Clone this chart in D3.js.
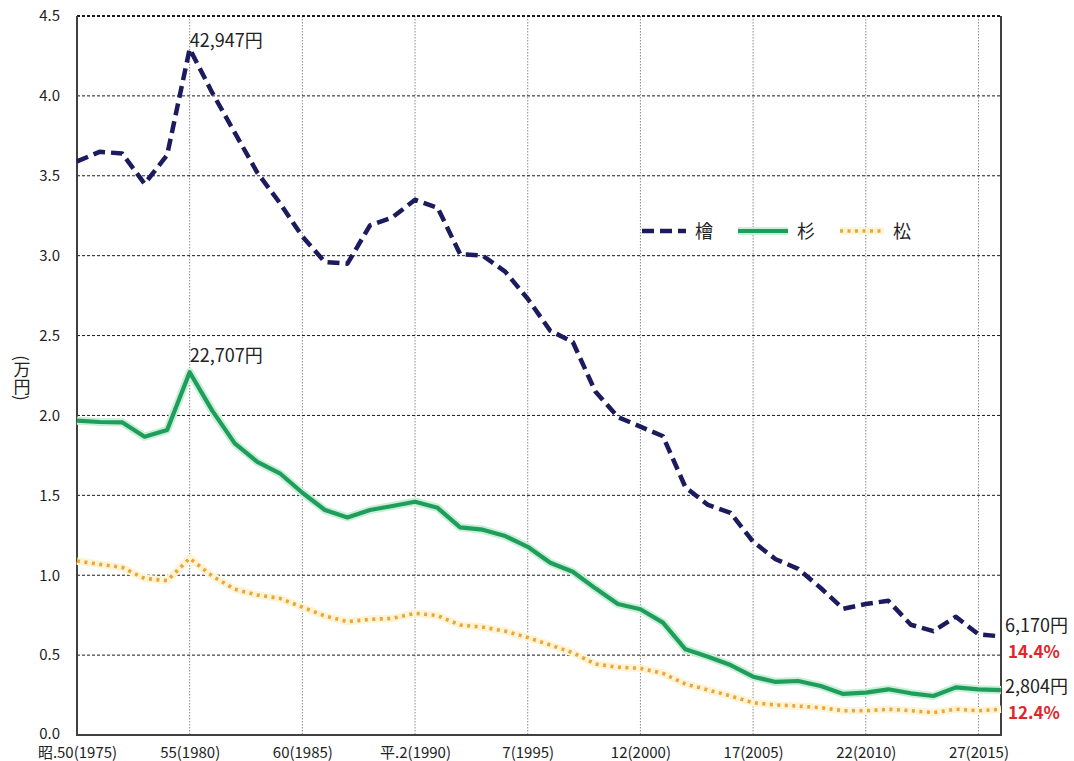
<!DOCTYPE html>
<html>
<head>
<meta charset="utf-8">
<script src="https://cdn.jsdelivr.net/npm/d3@7/dist/d3.min.js"></script>
<style>
  body { margin: 0; background: #fff; }
  text { font-family: "Noto Sans CJK JP", "Noto Sans", sans-serif; }
</style>
</head>
<body>
<svg id="chart" width="1074" height="761"></svg>
<script>
// Years on the category axis
const years = [1975, 1976, 1977, 1978, 1979, 1980, 1981, 1982, 1983, 1984,
               1985, 1986, 1987, 1988, 1989, 1990, 1991, 1992, 1993, 1994,
               1995, 1996, 1997, 1998, 1999, 2000, 2001, 2002, 2003, 2004,
               2005, 2006, 2007, 2008, 2009, 2010, 2011, 2012, 2013, 2014,
               2015, 2016];

// Standing timber price per m³ (yen)
const hinoki = [35900, 36500, 36400, 34500, 36300, 42947, 40200, 37700, 35200, 33300,
                31200, 29600, 29500, 31900, 32400, 33500, 33000, 30100, 30000, 29000,
                27300, 25300, 24600, 21500, 19900, 19300, 18700, 15500, 14400, 13900,
                12100, 11000, 10400, 9200, 7900, 8200, 8400, 6900, 6500, 7400,
                6300, 6170];
const sugi = [19670, 19590, 19570, 18670, 19090, 22707, 20300, 18250, 17100, 16380,
              15160, 14080, 13620, 14080, 14330, 14600, 14220, 13000, 12850, 12450,
              11780, 10780, 10220, 9180, 8200, 7870, 7030, 5360, 4900, 4380,
              3650, 3320, 3380, 3070, 2570, 2650, 2860, 2610, 2440, 2980,
              2860, 2804];
const matsu = [10890, 10680, 10490, 9800, 9660, 11060, 9950, 9120, 8760, 8550,
               8000, 7450, 7090, 7240, 7300, 7620, 7470, 6880, 6750, 6500,
               6100, 5630, 5150, 4440, 4240, 4170, 3860, 3190, 2820, 2440,
               2020, 1880, 1810, 1710, 1520, 1520, 1610, 1520, 1400, 1610,
               1520, 1610];

// Latest price as a share of the 1980 peak (檜, 杉)
const shareOfPeak = ["14.4%", "12.4%"];

// Axis ticks
const xTickYears = [1975, 1980, 1985, 1990, 1995, 2000, 2005, 2010, 2015];
const xTickLabels = ["昭.50(1975)", "55(1980)", "60(1985)", "平.2(1990)", "7(1995)",
                     "12(2000)", "17(2005)", "22(2010)", "27(2015)"];
const yTicks = [0, 5000, 10000, 15000, 20000, 25000, 30000, 35000, 40000, 45000];

const seriesNames = ["檜", "杉", "松"];

const svg = d3.select("#chart");
const plotL = 77, plotR = 1001, plotT = 16, plotB = 735;

const x = d3.scaleLinear().domain([years[0], years[years.length - 1]]).range([plotL, plotR]);
const y = d3.scaleLinear().domain([0, 45000]).range([plotB, plotT]);

svg.append("rect").attr("width", 1074).attr("height", 761).attr("fill", "#fff");

// Vertical dotted gridlines every five years
svg.append("g").selectAll("line")
  .data(xTickYears.slice(1))
  .join("line")
  .attr("x1", d => x(d)).attr("x2", d => x(d))
  .attr("y1", plotT).attr("y2", plotB)
  .attr("stroke", "#8a8a8a").attr("stroke-width", 1)
  .attr("stroke-dasharray", "1.5 1.5");

// Horizontal dashed gridlines
svg.append("g").selectAll("line")
  .data(yTicks.slice(1))
  .join("line")
  .attr("x1", plotL).attr("x2", plotR)
  .attr("y1", d => y(d)).attr("y2", d => y(d))
  .attr("stroke", "#1a1a1a").attr("stroke-width", d => d === 45000 ? 2 : 1)
  .attr("stroke-dasharray", "3 2");

// Plot frame: left, bottom, right
svg.append("path")
  .attr("d", `M${plotL},${plotT}V${plotB}H${plotR}V${plotT}`)
  .attr("fill", "none").attr("stroke", "#404040").attr("stroke-width", 2);

// Y axis
const yAxis = d3.axisLeft(y)
  .tickValues(yTicks)
  .tickSize(0)
  .tickPadding(17)
  .tickFormat(d => (d / 10000).toFixed(1));
const gy = svg.append("g").attr("transform", `translate(${plotL},0)`).call(yAxis);
gy.select(".domain").remove();
gy.selectAll("text")
  .attr("font-size", 15).attr("fill", "#222")
  .style("font-family", "'Noto Sans CJK JP', sans-serif");
gy.selectAll(".tick").filter(d => d === 0).select("text").attr("dy", "0.2em");

// X axis
const xAxis = d3.axisBottom(x)
  .tickValues(xTickYears)
  .tickSize(0)
  .tickPadding(12)
  .tickFormat((d, i) => xTickLabels[i]);
const gx = svg.append("g").attr("transform", `translate(0,${plotB})`).call(xAxis);
gx.select(".domain").remove();
gx.selectAll("text")
  .attr("font-size", 15).attr("fill", "#222")
  .style("font-family", "'Noto Sans CJK JP', sans-serif");

// Y axis title, written vertically
svg.append("text")
  .attr("x", 22).attr("y", 378)
  .attr("text-anchor", "middle")
  .style("writing-mode", "vertical-rl")
  .attr("font-size", 17).attr("fill", "#222")
  .text("(万円)");

// Series lines
const line = d3.line().x((d, i) => x(years[i])).y(d => y(d));

const styles = [
  { data: hinoki, color: "#1c1b5e", width: 4.5, dash: "12 6", halo: null },
  { data: sugi, color: "#1f9d5b", width: 4.2, dash: null, halo: "#c9efd8" },
  { data: matsu, color: "#eba53a", width: 3.6, dash: "3 4.5", halo: "#fdf4d6" }
];

const gLines = svg.append("g").attr("fill", "none");
// draw matsu first, hinoki last
[2, 1, 0].forEach(k => {
  const s = styles[k];
  if (s.halo) {
    gLines.append("path").attr("d", line(s.data))
      .attr("stroke", s.halo).attr("stroke-width", s.width + 4)
      .attr("stroke-linejoin", "round");
  }
  gLines.append("path").attr("d", line(s.data))
    .attr("stroke", s.color).attr("stroke-width", s.width)
    .attr("stroke-dasharray", s.dash)
    .attr("stroke-linejoin", "round");
});

// Value annotations
const fmt = d3.format(",");
const iPeak = years.indexOf(1980);
const iLast = years.length - 1;

svg.append("text").attr("x", x(years[iPeak])).attr("y", 47)
  .attr("font-size", 18).attr("fill", "#222")
  .text(fmt(hinoki[iPeak]) + "円");
svg.append("text").attr("x", x(years[iPeak])).attr("y", 362)
  .attr("font-size", 18).attr("fill", "#222")
  .text(fmt(sugi[iPeak]) + "円");

svg.append("text").attr("x", 1005).attr("y", 632)
  .attr("font-size", 18).attr("fill", "#222")
  .text(fmt(hinoki[iLast]) + "円");
svg.append("text").attr("x", 1008).attr("y", 658)
  .attr("font-size", 17).attr("font-weight", "bold").attr("fill", "#e0262a")
  .text(shareOfPeak[0]);

svg.append("text").attr("x", 1005).attr("y", 693)
  .attr("font-size", 18).attr("fill", "#222")
  .text(fmt(sugi[iLast]) + "円");
svg.append("text").attr("x", 1008).attr("y", 719)
  .attr("font-size", 17).attr("font-weight", "bold").attr("fill", "#e0262a")
  .text(shareOfPeak[1]);

// Legend
const legend = svg.append("g").attr("transform", "translate(642,231)");
const legendX = [0, 96, 198];
const legendW = [44, 50, 44];
seriesNames.forEach((name, k) => {
  const s = styles[k];
  const g = legend.append("g").attr("transform", `translate(${legendX[k]},0)`);
  if (s.halo) {
    g.append("line").attr("x1", 0).attr("x2", legendW[k])
      .attr("stroke", s.halo).attr("stroke-width", s.width + 4);
  }
  g.append("line").attr("x1", 0).attr("x2", legendW[k])
    .attr("stroke", s.color).attr("stroke-width", s.width)
    .attr("stroke-dasharray", s.dash);
  g.append("text").attr("x", legendW[k] + 9).attr("y", 7)
    .attr("font-size", 18).attr("fill", "#222").text(name);
});
</script>
</body>
</html>
